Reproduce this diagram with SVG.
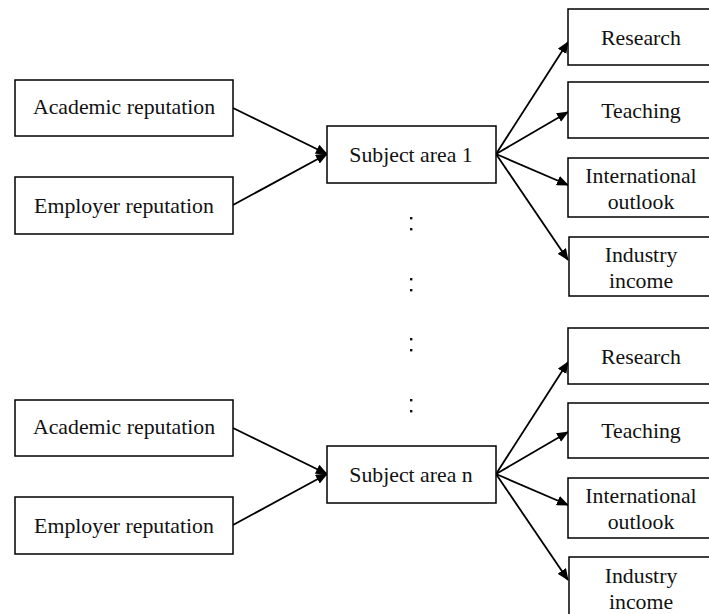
<svg xmlns="http://www.w3.org/2000/svg" width="709" height="614" viewBox="0 0 709 614">
<style>
.box{fill:#fff;stroke:#000;stroke-width:1.5}
.t{font-family:"Liberation Serif","Times New Roman",serif;font-size:21.8px;fill:#111;text-anchor:middle}
.c{stroke:#000;stroke-width:1.8;fill:none;marker-end:url(#ah)}
.dot{fill:#111}
</style>
<defs>
<marker id="ah" markerWidth="12" markerHeight="10" refX="11" refY="5" orient="auto" markerUnits="userSpaceOnUse">
<path d="M0,0 L12,5 L0,10 z" fill="#000"/>
</marker>
</defs>
<rect width="709" height="614" fill="#fff"/>
<g id="connectors">
<line class="c" x1="233" y1="108" x2="327" y2="154"/>
<line class="c" x1="233" y1="205" x2="327" y2="154"/>
<line class="c" x1="496" y1="154" x2="568" y2="42"/>
<line class="c" x1="496" y1="154" x2="568" y2="112"/>
<line class="c" x1="496" y1="154" x2="568" y2="185"/>
<line class="c" x1="496" y1="154" x2="568" y2="260"/>
<line class="c" x1="233" y1="428" x2="327" y2="474"/>
<line class="c" x1="233" y1="525" x2="327" y2="474"/>
<line class="c" x1="496" y1="474" x2="568" y2="362"/>
<line class="c" x1="496" y1="474" x2="568" y2="432"/>
<line class="c" x1="496" y1="474" x2="568" y2="505"/>
<line class="c" x1="496" y1="474" x2="568" y2="580"/>
</g>
<g id="dots">
<rect class="dot" x="410" y="217" width="2.4" height="2.4"/>
<rect class="dot" x="410" y="228" width="2.4" height="2.4"/>
<rect class="dot" x="410" y="278" width="2.4" height="2.4"/>
<rect class="dot" x="410" y="289" width="2.4" height="2.4"/>
<rect class="dot" x="410" y="338" width="2.4" height="2.4"/>
<rect class="dot" x="410" y="349" width="2.4" height="2.4"/>
<rect class="dot" x="410" y="399" width="2.4" height="2.4"/>
<rect class="dot" x="410" y="410" width="2.4" height="2.4"/>
</g>
<g id="acad1"><rect class="box" x="15" y="80" width="218" height="56"/><text class="t" x="124" y="114">Academic reputation</text></g>
<g id="emp1"><rect class="box" x="15" y="177" width="218" height="57"/><text class="t" x="124" y="213">Employer reputation</text></g>
<g id="subj1"><rect class="box" x="327" y="126" width="169" height="57"/><text class="t" x="411" y="162">Subject area 1</text></g>
<g id="res1"><rect class="box" x="568" y="9" width="145" height="56"/><text class="t" x="641" y="45">Research</text></g>
<g id="teach1"><rect class="box" x="568" y="82" width="145" height="56"/><text class="t" x="641" y="118">Teaching</text></g>
<g id="intl1"><rect class="box" x="568" y="158" width="145" height="59"/><text class="t" x="641" y="183">International</text><text class="t" x="641" y="209">outlook</text></g>
<g id="ind1"><rect class="box" x="569" y="237" width="145" height="59"/><text class="t" x="641" y="262">Industry</text><text class="t" x="641" y="288">income</text></g>
<g id="acad2"><rect class="box" x="15" y="400" width="218" height="56"/><text class="t" x="124" y="434">Academic reputation</text></g>
<g id="emp2"><rect class="box" x="15" y="497" width="218" height="57"/><text class="t" x="124" y="533">Employer reputation</text></g>
<g id="subjn"><rect class="box" x="327" y="446" width="169" height="57"/><text class="t" x="411" y="482">Subject area n</text></g>
<g id="res2"><rect class="box" x="568" y="328" width="145" height="56"/><text class="t" x="641" y="364">Research</text></g>
<g id="teach2"><rect class="box" x="568" y="403" width="145" height="55"/><text class="t" x="641" y="438">Teaching</text></g>
<g id="intl2"><rect class="box" x="568" y="478" width="145" height="60"/><text class="t" x="641" y="503">International</text><text class="t" x="641" y="529">outlook</text></g>
<g id="ind2"><rect class="box" x="569" y="557" width="145" height="70"/><text class="t" x="641" y="583">Industry</text><text class="t" x="641" y="609">income</text></g>
</svg>
